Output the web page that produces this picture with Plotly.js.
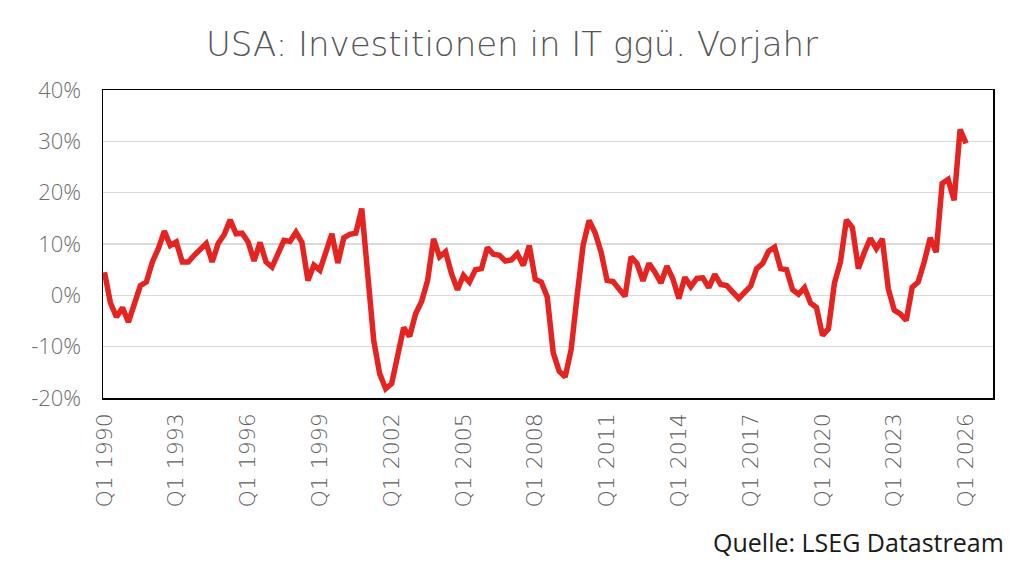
<!DOCTYPE html>
<html>
<head>
<meta charset="utf-8">
<script src="https://cdn.plot.ly/plotly-3.0.1.min.js"></script>
<style>
  html, body { margin: 0; padding: 0; background: #fff; }
  #chart { width: 1024px; height: 562px; }
</style>
</head>
<body>
<div id="chart"></div>
<script>
// Quarterly series, Q1 1990 onwards (YoY %, US IT investment)
const startYear = 1990;
const values = [
  4.5, -1.5, -4.2, -2.4, -5.2, -1.6, 1.9, 2.6, 6.5, 9.1,
  12.5, 9.7, 10.4, 6.5, 6.5, 7.8, 8.8, 10.1, 6.5, 10.1,
  11.8, 14.7, 12.0, 12.1, 10.4, 6.7, 10.3, 6.5, 5.5, 8.1,
  10.7, 10.5, 12.3, 10.3, 2.9, 5.9, 4.9, 8.4, 12.0, 6.3,
  11.2, 11.9, 12.1, 16.9, 3.5, -8.8, -15.3, -18.2, -17.2, -12.0,
  -6.3, -8.0, -3.6, -1.2, 2.9, 11.0, 7.5, 8.5, 4.2, 1.1,
  3.9, 2.6, 5.0, 5.2, 9.3, 8.0, 7.8, 6.7, 6.9, 8.1,
  5.8, 9.7, 3.1, 2.6, -0.3, -11.2, -14.8, -15.9, -10.5, 0.0,
  9.8, 14.6, 12.2, 8.4, 2.9, 2.7, 1.2, -0.2, 7.5, 6.2,
  2.8, 6.2, 4.5, 2.4, 5.7, 3.2, -0.6, 3.5, 1.7, 3.3,
  3.4, 1.5, 4.1, 2.1, 1.9, 0.8, -0.6, 0.6, 1.8, 5.2,
  6.2, 8.6, 9.4, 5.2, 5.0, 1.1, 0.2, 1.5, -1.5, -2.4,
  -7.8, -6.5, 2.4, 6.5, 14.7, 13.2, 5.2, 8.4, 11.1, 9.1,
  11.0, 1.3, -2.9, -3.6, -4.9, 1.6, 2.6, 6.5, 11.2, 8.4,
  21.8, 22.6, 18.5, 32.3, 29.6
];
const xTickLabels = ["Q1 1990","Q1 1993","Q1 1996","Q1 1999","Q1 2002","Q1 2005","Q1 2008",
                     "Q1 2011","Q1 2014","Q1 2017","Q1 2020","Q1 2023","Q1 2026"];
const yTickValues = [-20, -10, 0, 10, 20, 30, 40];
const yTickLabels = ["-20%", "-10%", "0%", "10%", "20%", "30%", "40%"];
const titleText = "USA: Investitionen in IT ggü. Vorjahr";
const sourceText = "Quelle: LSEG Datastream";

// quarter index positions and labels
const xIdx = values.map((_, i) => i);
const qLabels = values.map((_, i) => "Q" + (i % 4 + 1) + " " + (startYear + Math.floor(i / 4)));
const xTickVals = xTickLabels.map((_, k) => k * 12);

const FONT = "'DejaVu Sans', 'Open Sans', sans-serif";
const YFONT = "'Open Sans', Lato, sans-serif";
const SRC_FONT = "'Open Sans', Lato, sans-serif";

const trace = {
  x: xIdx,
  y: values,
  text: qLabels,
  type: "scatter",
  mode: "lines",
  line: { color: "#e52421", width: 5.5 },
  hovertemplate: "%{text}: %{y:.1f}%<extra></extra>"
};

const layout = {
  width: 1024,
  height: 562,
  margin: { l: 103, r: 31, t: 90, b: 164 },
  paper_bgcolor: "#ffffff",
  plot_bgcolor: "#ffffff",
  showlegend: false,
  font: { family: FONT, color: "#6e6e6e" },
  title: {
    text: titleText,
    font: { family: FONT, size: 34, weight: 300, color: "#555555" },
    x: 0.5, xanchor: "center",
    y: 0.922, yanchor: "middle", yref: "container"
  },
  xaxis: {
    type: "linear",
    range: [-0.25, 148.5],
    tickvals: xTickVals,
    ticktext: xTickLabels,
    tickangle: -90,
    tickfont: { family: FONT, size: 22, weight: 300, color: "#5e5e5e" },
    ticks: "",
    showgrid: false,
    zeroline: false,
    showline: true,
    linecolor: "#000000",
    linewidth: 1.5,
    mirror: true,
    ticklabelstandoff: 5
  },
  yaxis: {
    range: [-20, 40],
    tickvals: yTickValues,
    ticktext: yTickLabels,
    tickfont: { family: YFONT, size: 22, weight: 300, color: "#6e6e6e" },
    ticks: "",
    showgrid: true,
    gridcolor: "#d9d9d9",
    gridwidth: 1.5,
    zeroline: false,
    showline: true,
    linecolor: "#000000",
    linewidth: 1.5,
    mirror: true,
    ticklabelstandoff: 16
  },
  annotations: [{
    text: sourceText,
    xref: "paper", yref: "paper",
    x: 1.015, xanchor: "right",
    y: -0.466, yanchor: "middle",
    showarrow: false,
    font: { family: SRC_FONT, size: 25, color: "#1a1a1a" }
  }]
};

Plotly.newPlot("chart", [trace], layout, { displayModeBar: false, staticPlot: true });
</script>
</body>
</html>
